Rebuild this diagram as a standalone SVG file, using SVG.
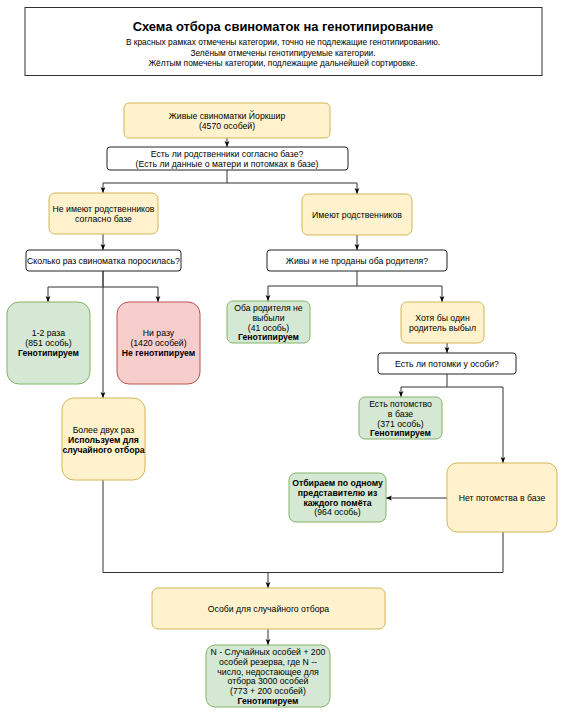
<svg xmlns="http://www.w3.org/2000/svg" width="565" height="715" viewBox="0 0 565 715">
<defs>
<style>
text{font-family:"Liberation Sans",Arial,sans-serif;font-size:8.7px;fill:#000;text-anchor:middle}
.t{font-size:12.9px;font-weight:bold}
.s{font-size:8.4px}
.b{font-weight:bold}
.q{fill:#fff;stroke:#222;stroke-width:1}
.y{fill:#fff2cc;stroke:#d6b656;stroke-width:1}
.g{fill:#d5e8d4;stroke:#82b366;stroke-width:1}
.r{fill:#f8cecc;stroke:#b85450;stroke-width:1}
.c path{fill:none;stroke:#333;stroke-width:1}
</style>
<marker id="a" viewBox="0 0 10 10" refX="10" refY="5" markerWidth="6" markerHeight="6" markerUnits="userSpaceOnUse" orient="auto">
<path d="M0,1 L10,5 L0,9 L2.5,5 z" fill="#000" stroke="none"/>
</marker>
</defs>
<rect x="0" y="0" width="565" height="715" fill="#fff"/>
<g id="title">
<rect x="25" y="7.5" width="517" height="68" fill="#fff" stroke="#333" stroke-width="1"/>
<text class="t" x="283" y="31">Схема отбора свиноматок на генотипирование</text>
<text class="s" x="283" y="45">В красных рамках отмечены категории, точно не подлежащие генотипированию.</text>
<text class="s" x="283" y="55.5">Зелёным отмечены генотипируемые категории.</text>
<text class="s" x="283" y="66">Жёлтым помечены категории, подлежащие дальнейшей сортировке.</text>
</g>
<g class="c">
<path d="M227,138 V147" marker-end="url(#a)"/>
<path d="M227,170 V183 H103 V193" marker-end="url(#a)"/>
<path d="M227,183 H357 V194" marker-end="url(#a)"/>
<path d="M103,234 V250" marker-end="url(#a)"/>
<path d="M357,235 V250" marker-end="url(#a)"/>
<path d="M103,271 V287 H48 V302" marker-end="url(#a)"/>
<path d="M103,287 H158 V302" marker-end="url(#a)"/>
<path d="M103,271 V398" marker-end="url(#a)"/>
<path d="M357,271 V286 H268 V301" marker-end="url(#a)"/>
<path d="M357,286 H442 V302" marker-end="url(#a)"/>
<path d="M447,343 V353" marker-end="url(#a)"/>
<path d="M447,374 V387 H401 V397" marker-end="url(#a)"/>
<path d="M447,387 H503 V463" marker-end="url(#a)"/>
<path d="M447,498 H386" marker-end="url(#a)"/>
<path d="M103,480 V572.5 H503"/>
<path d="M503,532 V572.5"/>
<path d="M268,572.5 V588" marker-end="url(#a)"/>
<path d="M268,629 V645" marker-end="url(#a)"/>
</g>
<g id="n1">
<rect class="y" x="124" y="103" width="206" height="35" rx="5"/>
<text x="227" y="119">Живые свиноматки Йоркшир</text>
<text x="227" y="129">(4570 особей)</text>
</g>
<g id="q1">
<rect class="q" x="107" y="147" width="241" height="23" rx="3"/>
<text x="227" y="156.5">Есть ли родственники согласно базе?</text>
<text x="227" y="166.5">(Есть ли данные о матери и потомках в базе)</text>
</g>
<g id="n2">
<rect class="y" x="49" y="193" width="109" height="41" rx="6"/>
<text x="103.5" y="212">Не имеют родственников</text>
<text x="103.5" y="222">согласно базе</text>
</g>
<g id="n3">
<rect class="y" x="302" y="194" width="110" height="41" rx="6"/>
<text x="357" y="218">Имеют родственников</text>
</g>
<g id="q2">
<rect class="q" x="26" y="250" width="155" height="21" rx="3"/>
<text x="103.5" y="264">Сколько раз свиноматка поросилась?</text>
</g>
<g id="q3">
<rect class="q" x="267" y="250" width="180" height="21" rx="3"/>
<text x="357" y="264">Живы и не проданы оба родителя?</text>
</g>
<g id="n4">
<rect class="g" x="7" y="302" width="83" height="82" rx="12"/>
<text x="48.5" y="336">1-2 раза</text>
<text x="48.5" y="346">(851 особь)</text>
<text class="b" x="48.5" y="356">Генотипируем</text>
</g>
<g id="n5">
<rect class="r" x="117" y="302" width="83" height="82" rx="12"/>
<text x="158.5" y="336">Ни разу</text>
<text x="158.5" y="346">(1420 особей)</text>
<text class="b" x="158.5" y="356">Не генотипируем</text>
</g>
<g id="n6">
<rect class="g" x="227" y="301" width="83" height="42" rx="6"/>
<text x="268.5" y="311">Оба родителя не</text>
<text x="268.5" y="321">выбыли</text>
<text x="268.5" y="330.5">(41 особь)</text>
<text class="b" x="268.5" y="340">Генотипируем</text>
</g>
<g id="n7">
<rect class="y" x="401" y="302" width="83" height="41" rx="6"/>
<text x="442.5" y="321">Хотя бы один</text>
<text x="442.5" y="330.5">родитель выбыл</text>
</g>
<g id="q4">
<rect class="q" x="378" y="353" width="138" height="21" rx="3"/>
<text x="447" y="367">Есть ли потомки у особи?</text>
</g>
<g id="n8">
<rect class="g" x="359" y="397" width="83" height="42" rx="6"/>
<text x="400.5" y="407">Есть потомство</text>
<text x="400.5" y="417">в базе</text>
<text x="400.5" y="426.5">(371 особь)</text>
<text class="b" x="400.5" y="436">Генотипируем</text>
</g>
<g id="n9">
<rect class="y" x="62" y="398" width="83" height="82" rx="12"/>
<text x="103.5" y="433">Более двух раз</text>
<text class="b" x="103.5" y="443">Используем для</text>
<text class="b" x="103.5" y="453">случайного отбора</text>
</g>
<g id="n10">
<rect class="y" x="447" y="463" width="110" height="69" rx="10"/>
<text x="502" y="501">Нет потомства в базе</text>
</g>
<g id="n11">
<rect class="g" x="289" y="473" width="97" height="49" rx="7"/>
<text class="b" x="337.5" y="486">Отбираем по одному</text>
<text class="b" x="337.5" y="496">представителю из</text>
<text class="b" x="337.5" y="505.5">каждого помёта</text>
<text x="337.5" y="515">(964 особь)</text>
</g>
<g id="n12">
<rect class="y" x="152" y="588" width="233" height="41" rx="6"/>
<text x="268.5" y="612">Особи для случайного отбора</text>
</g>
<g id="n13">
<rect class="g" x="206" y="645" width="124" height="62" rx="9"/>
<text x="268" y="655">N - Случайных особей + 200</text>
<text x="268" y="665">особей резерва, где N --</text>
<text x="268" y="674.5">число, недостающее для</text>
<text x="268" y="684">отбора 3000 особей</text>
<text x="268" y="694">(773 + 200 особей)</text>
<text class="b" x="268" y="704">Генотипируем</text>
</g>
</svg>
